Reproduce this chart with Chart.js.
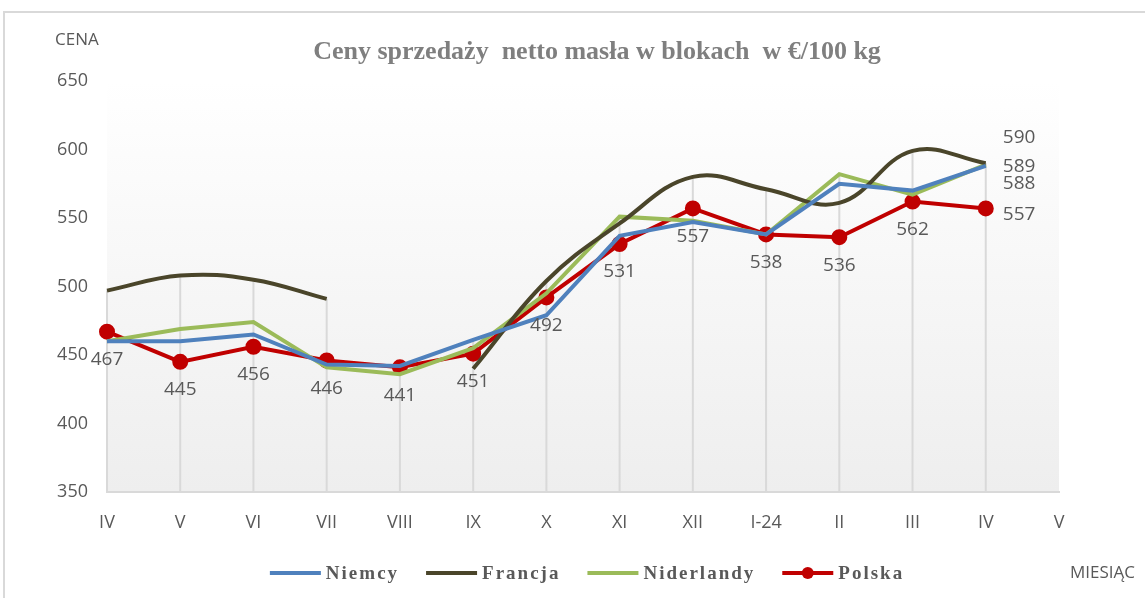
<!DOCTYPE html>
<html>
<head>
<meta charset="utf-8">
<script src="https://cdn.jsdelivr.net/npm/chart.js@4/dist/chart.umd.min.js"></script>
<style>
  html, body { margin: 0; padding: 0; background: #fff; }
  #wrap { width: 1145px; height: 598px; }
</style>
</head>
<body>
<div id="wrap"><canvas id="chart"></canvas></div>
<script>
const months = ['IV', 'V', 'VI', 'VII', 'VIII', 'IX', 'X', 'XI', 'XII', 'I-24', 'II', 'III', 'IV', 'V']
const niemcy = [460, 460, 465, 443, 442, 461, 479, 537, 547, 538, 575, 570, 588]
const francja = [497, 508, 505, 491, null, 440, 504, 546, 580, 571, 561, 599, 590]
const niderlandy = [460, 469, 474, 441, 436, 455, 495, 551, 548, 538, 582, 567, 589]
const polska = [467, 445, 456, 446, 441, 451, 492, 531, 557, 538, 536, 562, 557]
const yTicks = [350, 400, 450, 500, 550, 600, 650]

const title = 'Ceny sprzedaży  netto masła w blokach  w €/100 kg'
const grey = '#595959'
const labelFont = '19px "Open Sans"'

// tło wykresu, ramka, linie pionowe (drop lines)
const backdrop = {
    id: 'backdrop',
    beforeDraw(chart) {
        const { ctx, chartArea: a } = chart
        ctx.save()
        ctx.fillStyle = '#fff'
        ctx.fillRect(0, 0, chart.width, chart.height)
        const g = ctx.createLinearGradient(0, a.top, 0, a.bottom)
        g.addColorStop(0, '#ffffff')
        g.addColorStop(1, '#eeeeee')
        ctx.fillStyle = g
        ctx.fillRect(a.left, a.top, a.right - a.left, a.bottom - a.top)
        // ramka
        ctx.strokeStyle = '#d9d9d9'
        ctx.lineWidth = 2
        ctx.beginPath()
        ctx.moveTo(chart.width + 5, 12)
        ctx.lineTo(4, 12)
        ctx.lineTo(4, chart.height + 5)
        ctx.stroke()
        ctx.restore()
    },
    beforeDatasetsDraw(chart) {
        const { ctx, chartArea: a } = chart
        const n = chart.data.labels.length
        ctx.save()
        ctx.strokeStyle = '#d9d9d9'
        ctx.lineWidth = 2
        for (let i = 0; i < n; i++) {
            let top = null, x = null
            chart.data.datasets.forEach((ds, di) => {
                const el = chart.getDatasetMeta(di).data[i]
                if (!el || ds.data[i] == null) return
                x = el.x
                if (top === null || el.y < top) top = el.y
            })
            if (top === null) continue
            ctx.beginPath()
            ctx.moveTo(x, top)
            ctx.lineTo(x, a.bottom)
            ctx.stroke()
        }
        ctx.restore()
    }
}

// tytuł, etykiety danych, legenda, opisy osi
const texts = {
    id: 'texts',
    afterDraw(chart) {
        const { ctx } = chart
        ctx.save()
        ctx.textBaseline = 'middle'

        ctx.fillStyle = '#7f7f7f'
        ctx.font = 'bold 26px "Liberation Serif"'
        ctx.textAlign = 'center'
        ctx.fillText(title, 597, 52)

        ctx.fillStyle = grey
        ctx.font = '17px "Open Sans"'
        ctx.textAlign = 'left'
        ctx.fillText('CENA', 55, 40)
        ctx.fillText('MIESIĄC', 1070, 573)

        // etykiety danych
        ctx.font = labelFont
        chart.data.datasets.forEach((ds, di) => {
            const pts = chart.getDatasetMeta(di).data
            const last = ds.data.length - 1
            ds.data.forEach((v, i) => {
                if (v == null) return
                const p = pts[i]
                if (i === last) {
                    ctx.textAlign = 'left'
                    ctx.fillText(String(v), p.x + 17, p.y + ds.lastDy)
                } else if (ds.labelAll) {
                    ctx.textAlign = 'center'
                    ctx.fillText(String(v), p.x, p.y + 28)
                }
            })
        })

        // legenda
        ctx.font = 'bold 19px "Liberation Serif"'
        ctx.letterSpacing = '2px'
        const lineW = 51, gap = 5, itemGap = 27
        const items = chart.data.datasets.map(ds => ({ ds, w: lineW + gap + ctx.measureText(ds.label).width }))
        const total = items.reduce((s, it) => s + it.w, 0) + itemGap * (items.length - 1)
        let x = 587 - total / 2
        const y = 573
        items.forEach(({ ds, w }) => {
            ctx.strokeStyle = ds.borderColor
            ctx.lineWidth = ds.borderWidth
            ctx.beginPath()
            ctx.moveTo(x, y)
            ctx.lineTo(x + lineW, y)
            ctx.stroke()
            if (ds.pointRadius > 0) {
                ctx.fillStyle = ds.borderColor
                ctx.beginPath()
                ctx.arc(x + lineW / 2, y, ds.pointRadius, 0, Math.PI * 2)
                ctx.fill()
            }
            ctx.fillStyle = grey
            ctx.textAlign = 'left'
            ctx.fillText(ds.label, x + lineW + gap, y + 1)
            x += w + itemGap
        })
        ctx.restore()
    }
}

new Chart(document.getElementById('chart'), {
    type: 'line',
    data: {
        labels: months,
        datasets: [
            {
                label: 'Niemcy',
                data: niemcy,
                borderColor: '#4f81bd',
                borderWidth: 4,
                pointRadius: 0,
                tension: 0,
                lastDy: 18
            },
            {
                label: 'Francja',
                data: francja,
                borderColor: '#4a452a',
                borderWidth: 4,
                pointRadius: 0,
                tension: 0.4,
                spanGaps: false,
                lastDy: -26
            },
            {
                label: 'Niderlandy',
                data: niderlandy,
                borderColor: '#9bbb59',
                borderWidth: 4,
                pointRadius: 0,
                tension: 0,
                lastDy: 2
            },
            {
                label: 'Polska',
                data: polska,
                borderColor: '#c00000',
                backgroundColor: '#c00000',
                borderWidth: 4,
                pointRadius: 6,
                pointBackgroundColor: '#c00000',
                tension: 0,
                labelAll: true,
                lastDy: 6
            }
        ]
    },
    options: {
        responsive: true,
        maintainAspectRatio: false,
        animation: false,
        layout: { padding: { top: 81, right: 86, bottom: 0, left: 0 } },
        plugins: {
            legend: { display: false },
            title: { display: false },
            tooltip: { enabled: false }
        },
        scales: {
            x: {
                offset: false,
                grid: { display: false, drawTicks: false },
                border: { display: true, color: '#d9d9d9', width: 2 },
                ticks: { color: grey, font: { family: 'Open Sans', size: 18 }, padding: 20, autoSkip: false, maxRotation: 0 },
                afterFit: s => { s.height = 106 }
            },
            y: {
                min: 350,
                max: 650,
                afterBuildTicks: s => { s.ticks = yTicks.map(v => ({ value: v })) },
                grid: { display: false, drawTicks: false },
                border: { display: false },
                ticks: { color: grey, font: { family: 'Open Sans', size: 18 }, padding: 19 },
                afterFit: s => { s.width = 107 }
            }
        }
    },
    plugins: [backdrop, texts]
})
</script>
</body>
</html>
